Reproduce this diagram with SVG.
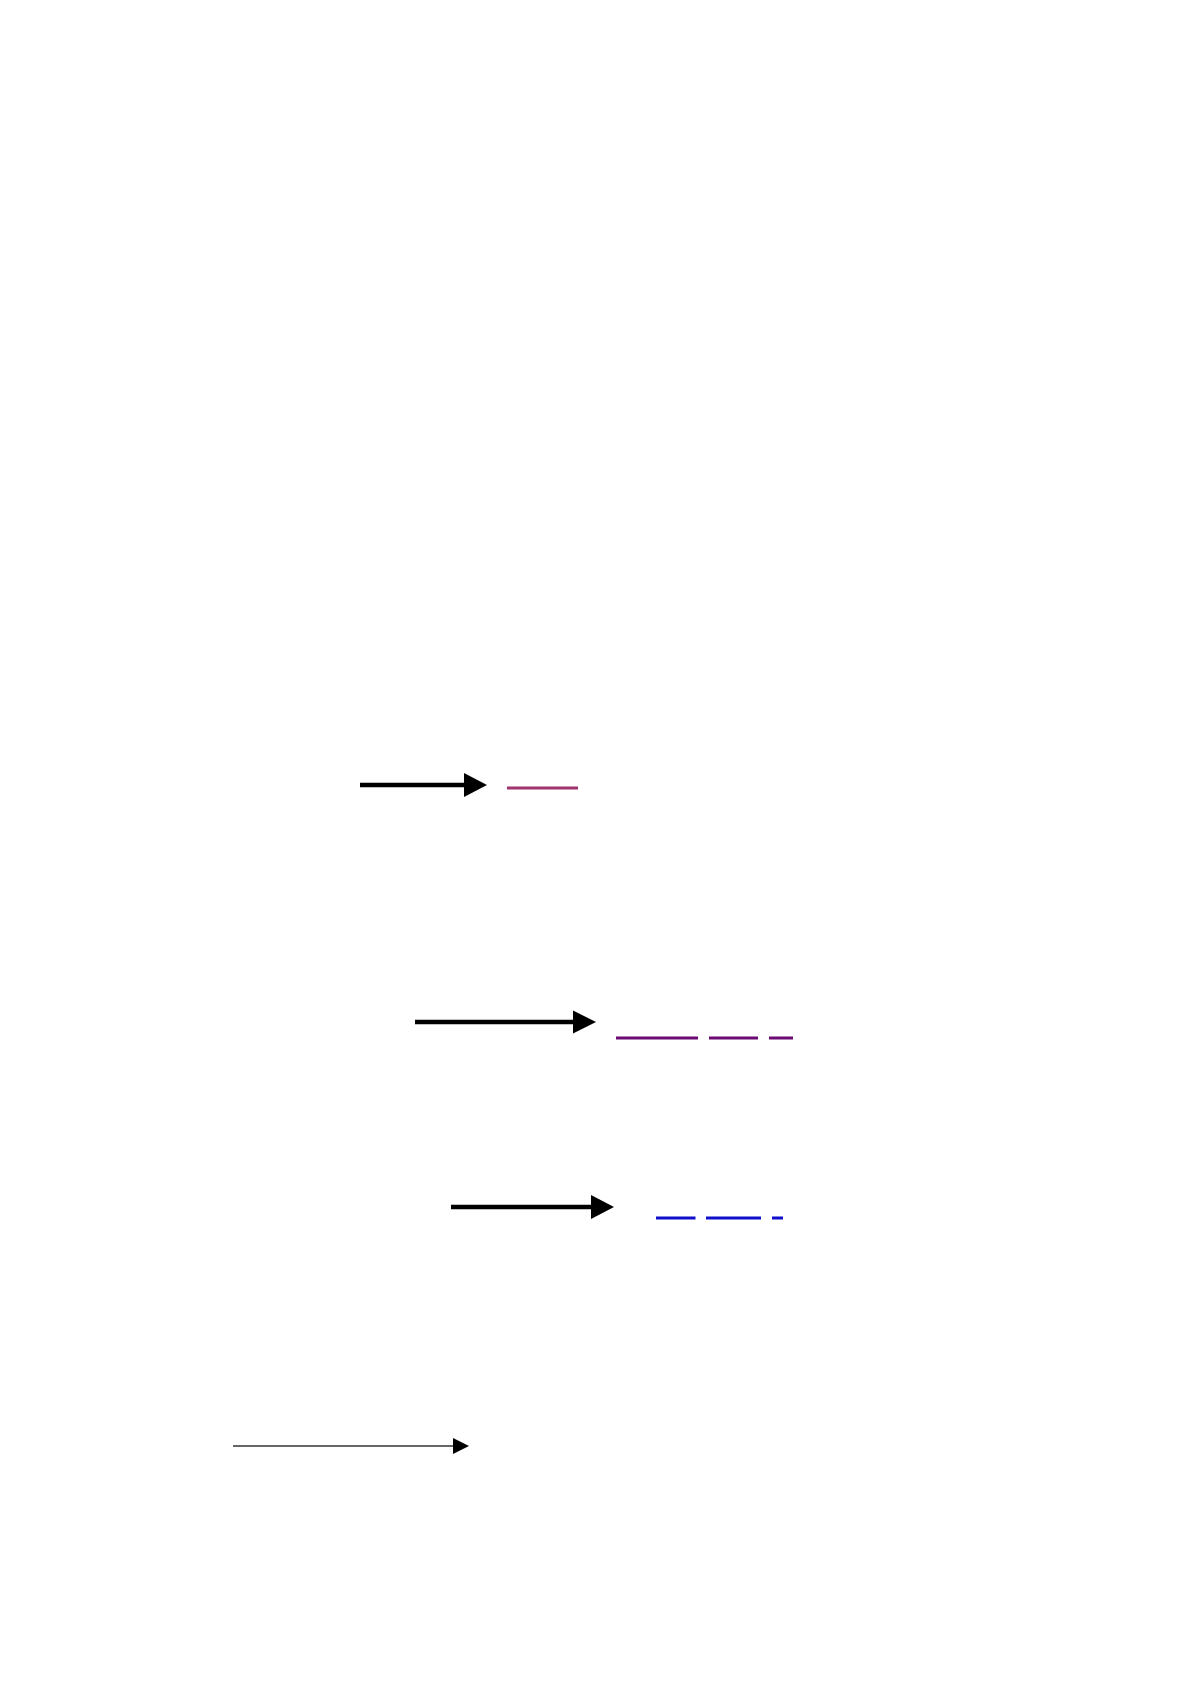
<svg xmlns="http://www.w3.org/2000/svg" width="1197" height="1693" viewBox="0 0 1197 1693">
<style>
.arrow{stroke:#000;stroke-width:4.5;fill:none}
.thin{stroke:#333;stroke-width:1.3;fill:none}
.head{fill:#000}
.pink{stroke:#a0346e;stroke-width:3;fill:none}
.purple{stroke:#6a0a72;stroke-width:3;fill:none}
.blue{stroke:#1010cc;stroke-width:3;fill:none}
</style>
<rect width="1197" height="1693" fill="#fff"/>
<g id="connectors">
<line class="arrow" x1="360" y1="785" x2="466" y2="785"/>
<polygon class="head" points="464,773 487,785 464,797"/>
<line class="arrow" x1="415" y1="1022" x2="575" y2="1022"/>
<polygon class="head" points="573,1010.5 596,1022 573,1033.5"/>
<line class="arrow" x1="451" y1="1207" x2="593" y2="1207"/>
<polygon class="head" points="591,1195 614,1207 591,1219"/>
<line class="thin" x1="233" y1="1446" x2="455" y2="1446"/>
<polygon class="head" points="453,1438 469,1446 453,1454"/>
</g>
<g id="line-pink">
<line class="pink" x1="507" y1="788" x2="578" y2="788"/>
</g>
<g id="line-purple">
<path class="purple" d="M616 1038H698M709 1038H758M769 1038H793"/>
</g>
<g id="line-blue">
<path class="blue" d="M656 1218H695.5M706 1218H761M772 1218H783"/>
</g>
</svg>
